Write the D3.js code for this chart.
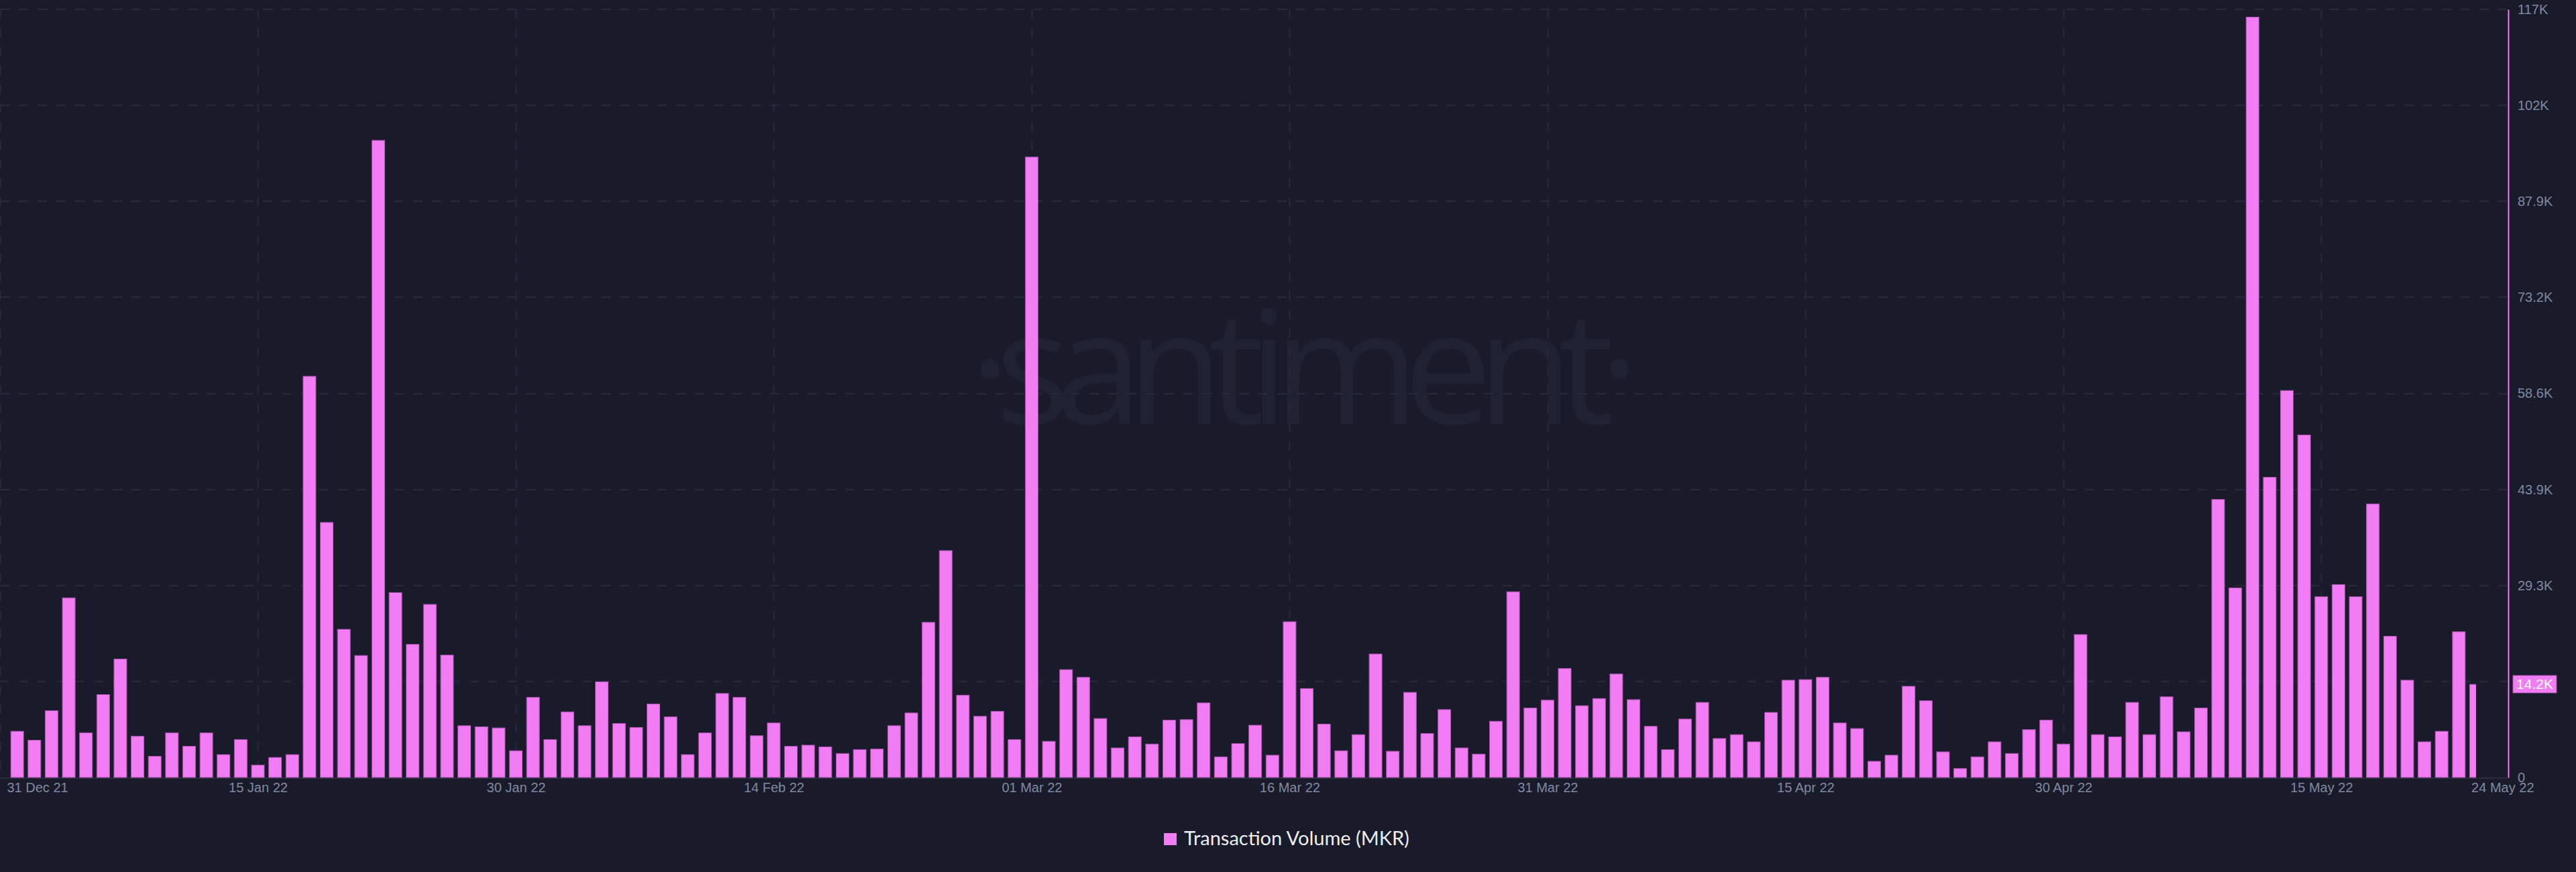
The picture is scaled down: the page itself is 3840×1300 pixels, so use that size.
<!DOCTYPE html>
<html>
<head>
<meta charset="utf-8">
<script src="https://cdnjs.cloudflare.com/ajax/libs/d3/7.8.5/d3.min.js"></script>
<style>
  html, body { margin: 0; padding: 0; background: #191b2b; }
  svg { display: block; }
</style>
</head>
<body>
<div id="container"></div>
<script>
// daily transaction volume (MKR), 01 Jan 22 .. 24 May 22
var firstDay = "2022-01-01";
var volumes = [
  7040, 5680, 10180, 27400, 6790, 12640, 18070, 6280, 3220, 6790,
  4750, 6790, 3480, 5770, 1870, 3050, 3480, 61200, 38900, 22600,
  18600, 97200, 28200, 20300, 26400, 18660, 7890, 7720, 7550, 4070,
  12210, 5770, 10000, 7890, 14590, 8230, 7630, 11200, 9240, 3480,
  6790, 12810, 12210, 6360, 8310, 4750, 4920, 4660, 3650, 4240,
  4330, 7890, 9840, 23660, 34600, 12550, 9330, 10090, 5770, 94660,
  5510, 16450, 15270, 8990, 4500, 6190, 5090, 8740, 8820, 11370,
  3140, 5170, 7970, 3390, 23750, 13570, 8140, 4070, 6530, 18830,
  3990, 12980, 6700, 10350, 4500, 3560, 8570, 28330, 10600, 11790,
  16620, 10940, 12040, 15780, 11870, 7800, 4240, 8910, 11450, 5940,
  6530, 5430, 9920, 14840, 14930, 15270, 8310, 7460, 2460, 3390,
  13910, 11700, 3900, 1360, 3140, 5430, 3650, 7290, 8740, 5090,
  21800, 6530, 6190, 11450, 6530, 12300, 6960, 10600, 42410, 28920,
  116000, 45800, 59030, 52250, 27570, 29430, 27570, 41730, 21540, 14840,
  5430, 7040, 22220, 14200
];
var xTickDates = ["2021-12-31", "2022-01-15", "2022-01-30", "2022-02-14", "2022-03-01",
                  "2022-03-16", "2022-03-31", "2022-04-15", "2022-04-30", "2022-05-15", "2022-05-24"];
var yMax = 117180;
var yTickLabels = ["0", "14.6K", "29.3K", "43.9K", "58.6K", "73.2K", "87.9K", "102K", "117K"];
var seriesName = "Transaction Volume (MKR)";
var lastLabel = "14.2K";

var width = 3840,
    height = 1300,
    plotTop = 14,
    plotBottom = 1159,
    plotRight = 3739,
    barWidth = 19;

var barColor = "#f27cf3",
    gridColor = "#262a3b",
    labelColor = "#7f89a1";

var parseDay = d3.timeParse("%Y-%m-%d");
var days = d3.timeDay.range(parseDay(firstDay), d3.timeDay.offset(parseDay(firstDay), volumes.length));
var data = volumes.map(function(v, i) { return { date: days[i], value: v }; });
var tickDates = xTickDates.map(parseDay);

var x = d3.scaleTime()
    .domain([tickDates[0], tickDates[tickDates.length - 1]])
    .range([0, 3691]);

var y = d3.scaleLinear()
    .domain([0, yMax])
    .range([plotBottom, plotTop]);

var yTicks = yTickLabels.map(function(d, i) { return i * yMax / (yTickLabels.length - 1); });

var svg = d3.select("#container").append("svg")
    .attr("width", width)
    .attr("height", height)
    .style("background", "#191b2b");

svg.append("defs").append("clipPath")
    .attr("id", "plot-clip")
  .append("rect")
    .attr("x", 0)
    .attr("y", 0)
    .attr("width", x.range()[1])
    .attr("height", plotBottom + 1);

// watermark
svg.append("text")
    .attr("x", 1445)
    .attr("y", 632)
    .attr("textLength", 1000)
    .attr("lengthAdjust", "spacing")
    .style("font-family", "Open Sans")
    .style("font-size", "235px")
    .attr("fill", "#1f2233")
    .text("\u00b7santiment\u00b7");

// horizontal grid
svg.append("g")
    .selectAll("line")
    .data(yTicks.slice(1))
    .enter().append("line")
    .attr("x1", 0)
    .attr("x2", plotRight)
    .attr("y1", function(d) { return Math.round(y(d)); })
    .attr("y2", function(d) { return Math.round(y(d)); })
    .attr("stroke", gridColor)
    .attr("stroke-width", 2)
    .attr("stroke-dasharray", "14,14");

// vertical grid at date ticks
svg.append("g")
    .selectAll("line")
    .data(tickDates.slice(0, -1))
    .enter().append("line")
    .attr("x1", function(d) { return Math.round(x(d)) + 0.5; })
    .attr("x2", function(d) { return Math.round(x(d)) + 0.5; })
    .attr("y1", plotTop)
    .attr("y2", plotBottom)
    .attr("stroke", gridColor)
    .attr("stroke-width", 2)
    .attr("stroke-dasharray", "14,14");

// baseline
svg.append("line")
    .attr("x1", 0)
    .attr("x2", plotRight)
    .attr("y1", plotBottom + 1)
    .attr("y2", plotBottom + 1)
    .attr("stroke", "#2a2d3e")
    .attr("stroke-width", 2);

// bars
svg.append("g")
    .attr("clip-path", "url(#plot-clip)")
    .selectAll("rect")
    .data(data)
    .enter().append("rect")
    .attr("x", function(d) { return x(d.date) - barWidth / 2; })
    .attr("y", function(d) { return y(d.value); })
    .attr("width", barWidth)
    .attr("height", function(d) { return plotBottom - y(d.value); })
    .attr("fill", barColor)
    .attr("stroke", "#a953ad")
    .attr("stroke-width", 1);

// x axis labels
var xAxis = svg.append("g")
    .attr("transform", "translate(0," + (plotBottom + 8) + ")")
    .call(d3.axisBottom(x)
        .tickValues(tickDates)
        .tickSize(0)
        .tickPadding(0)
        .tickFormat(d3.timeFormat("%d %b %y")));
xAxis.select(".domain").remove();
xAxis.selectAll("text")
    .attr("dy", "0.71em")
    .attr("fill", labelColor)
    .style("font-family", "Liberation Sans, Arial, sans-serif")
    .style("font-size", "20px");
// first and last label are pushed inside the chart
xAxis.selectAll(".tick").filter(function(d, i) { return i == 0; })
    .select("text").attr("text-anchor", "start").attr("x", 10);
xAxis.selectAll(".tick").filter(function(d, i) { return i == tickDates.length - 1; })
    .select("text").attr("text-anchor", "end").attr("x", 86);

// right y axis
var yAxis = svg.append("g")
    .attr("transform", "translate(" + plotRight + ",0)")
    .call(d3.axisRight(y)
        .tickValues(yTicks)
        .tickSize(0)
        .tickPadding(14)
        .tickFormat(function(d, i) { return yTickLabels[i]; }));
yAxis.select(".domain")
    .attr("stroke", barColor)
    .attr("stroke-width", 2);
yAxis.selectAll("text")
    .attr("fill", labelColor)
    .style("font-family", "Liberation Sans, Arial, sans-serif")
    .style("font-size", "20px");

// last value badge
var last = data[data.length - 1];
var badge = svg.append("g")
    .attr("transform", "translate(3746," + Math.round(y(last.value) - 13) + ")");
badge.append("rect")
    .attr("width", 65)
    .attr("height", 26)
    .attr("fill", barColor)
    .attr("stroke", "#a953ad")
    .attr("stroke-width", 1);
badge.append("text")
    .attr("x", 32.5)
    .attr("y", 13)
    .attr("dy", "0.35em")
    .attr("text-anchor", "middle")
    .attr("fill", "#ffffff")
    .style("font-family", "Liberation Sans, Arial, sans-serif")
    .style("font-size", "21px")
    .text(lastLabel);

// legend
var legend = svg.append("g")
    .attr("transform", "translate(1735,1242)");
legend.append("rect")
    .attr("width", 19)
    .attr("height", 18)
    .attr("fill", barColor);
legend.append("text")
    .attr("x", 30)
    .attr("y", 18)
    .attr("fill", "#eceef5")
    .style("font-family", "Lato, sans-serif")
    .style("font-size", "29px")
    .text(seriesName);
</script>
</body>
</html>
